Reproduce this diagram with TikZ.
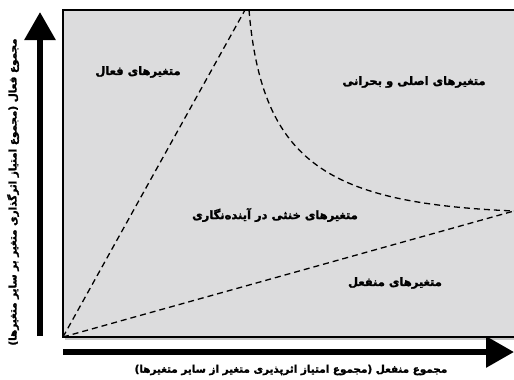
\documentclass[tikz,border=0pt]{standalone}
\usepackage{fontspec}
\usetikzlibrary{arrows.meta}
\TeXXeTstate=1
\newfontfamily\arabicfont[Script=Arabic,FakeBold=2]{DejaVu Sans Bold}
\definecolor{boxgray}{HTML}{DCDCDD}
\tikzset{
  region/.style={font=\arabicfont\fontsize{11.5}{13}\selectfont, inner sep=0pt},
  axislabel/.style={font=\arabicfont\fontsize{10.4}{12}\selectfont, inner sep=0pt},
  divider/.style={line width=1.3pt, dash pattern=on 6pt off 4pt},
  axisarrow/.style={line width=6pt, -{Triangle[width=30pt,length=28pt]}}
}
\begin{document}
\begin{tikzpicture}[x=1pt,y=-1pt]
\useasboundingbox (0,0) rectangle (514,380);
% shadow and box
\fill[gray!45] (65,12) rectangle (530,339.5);
\draw[line width=1.2pt, fill=boxgray] (63,10) rectangle (530,337);
\coordinate (O) at (63,337);
\coordinate (T1) at (245,10);
\coordinate (T2) at (249,10);
\coordinate (R) at (514,211);
\draw[divider] (O) -- (T1);
\draw[divider] (O) -- (R);
\draw[divider] (T2) .. controls (262,165) and (330,203) .. (R);
% axes
\coordinate (ys) at (40,336);
\coordinate (ye) at (40,12);
\coordinate (xs) at (63,352);
\coordinate (xe) at (514,352);
\draw[axisarrow] (ys) -- (ye);
\draw[axisarrow] (xs) -- (xe);
% labels
\node[region] (active) at (138,72) {\beginR متغیرهای فعال\endR};
\node[region] (critical) at (414,82) {\beginR متغیرهای اصلی و بحرانی\endR};
\node[region] (neutral) at (275,215) {\beginR متغیرهای خنثی در آینده‌نگاری\endR};
\node[region] (passive) at (395,283) {\beginR متغیرهای منفعل\endR};
\node[axislabel] (xlab) at (291,370) {\beginR مجموع منفعل (مجموع امتیاز اثرپذیری متغیر از سایر متغیرها)\endR};
\node[axislabel, rotate=90] (ylab) at (13,192) {\beginR مجموع فعال (مجموع امتیاز اثرگذاری متغیر بر سایر متغیرها)\endR};
\end{tikzpicture}
\end{document}
